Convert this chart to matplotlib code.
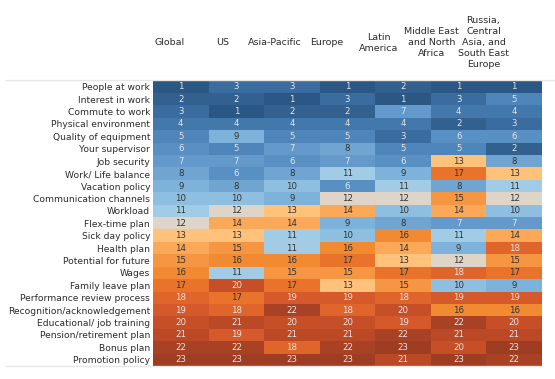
import numpy as np
import matplotlib
matplotlib.use("Agg")
import matplotlib.pyplot as plt
from matplotlib.colors import LinearSegmentedColormap

regions = ["Global", "US", "Asia-Pacific", "Europe", "Latin\nAmerica",
           "Middle East\nand North\nAfrica",
           "Russia,\nCentral\nAsia, and\nSouth East\nEurope"]

factors = ["People at work", "Interest in work", "Commute to work",
           "Physical environment", "Quality of equipment", "Your supervisor",
           "Job security", "Work/ Life balance", "Vacation policy",
           "Communication channels", "Workload", "Flex-time plan",
           "Sick day policy", "Health plan", "Potential for future", "Wages",
           "Family leave plan", "Performance review process",
           "Recognition/acknowledgement", "Educational/ job training",
           "Pension/retirement plan", "Bonus plan", "Promotion policy"]

# rank of each factor per region
ranks = [
    [1, 3, 3, 1, 2, 1, 1],
    [2, 2, 1, 3, 1, 3, 5],
    [3, 1, 2, 2, 7, 4, 4],
    [4, 4, 4, 4, 4, 2, 3],
    [5, 9, 5, 5, 3, 6, 6],
    [6, 5, 7, 8, 5, 5, 2],
    [7, 7, 6, 7, 6, 13, 8],
    [8, 6, 8, 11, 9, 17, 13],
    [9, 8, 10, 6, 11, 8, 11],
    [10, 10, 9, 12, 12, 15, 12],
    [11, 12, 13, 14, 10, 14, 10],
    [12, 14, 14, 9, 8, 7, 7],
    [13, 13, 11, 10, 16, 11, 14],
    [14, 15, 11, 16, 14, 9, 18],
    [15, 16, 16, 17, 13, 12, 15],
    [16, 11, 15, 15, 17, 18, 17],
    [17, 20, 17, 13, 15, 10, 9],
    [18, 17, 19, 19, 18, 19, 19],
    [19, 18, 22, 18, 20, 16, 16],
    [20, 21, 20, 20, 19, 22, 20],
    [21, 19, 21, 21, 22, 21, 21],
    [22, 22, 18, 22, 23, 20, 23],
    [23, 23, 23, 23, 21, 23, 22],
]

# orange-blue diverging, blue = top rank
stops = ["#2a5783", "#3a6c9f", "#4e86bb", "#6399cb", "#7db2da", "#a2cce6",
         "#dcd6cc", "#ffc27a", "#fca95a", "#f79641", "#f18a31", "#e9742a",
         "#e0652a", "#d5592a", "#c84f27", "#bb4926", "#aa4224", "#9e3d22"]
pos = [0, 2, 4, 6, 8, 10, 11, 12, 13, 14, 15, 16, 17, 18, 19, 20, 21, 22]
cmap = LinearSegmentedColormap.from_list("ob", [(p / 22, c) for p, c in zip(pos, stops)])

data = np.array(ranks)
nrow, ncol = data.shape

plt.rcParams['font.family'] = ['DejaVu Sans']
fig = plt.figure(figsize=(5.55, 3.79), dpi=100)
ax = fig.add_axes([0.2757, 0.0343, 0.9766 - 0.2757, 0.7876 - 0.0343])
ax.pcolormesh(data, cmap=cmap, vmin=1, vmax=23)
ax.set_xlim(0, ncol)
ax.set_ylim(nrow, 0)
ax.set_xticks([])
ax.set_yticks(np.arange(nrow) + 0.5)
ax.set_yticklabels(factors, fontsize=6.6, color="#2b2b2b")
ax.tick_params(axis="y", length=0, pad=2)
for s in ax.spines.values():
    s.set_visible(False)

for i in range(nrow):
    for j in range(ncol):
        v = data[i, j]
        light = v <= 7 or v >= 18
        ax.text(j + 0.5, i + 0.5, str(v), ha="center", va="center",
                fontsize=6.2, color="#e4e4e4" if light else "#333333")

for j, r in enumerate(regions):
    ax.text(0.306 + 0.94 * j, -3.05, r, ha="center", va="center",
            fontsize=6.8, color="#2b2b2b", linespacing=1.3, clip_on=False)

fig.add_artist(plt.Line2D([0.01, 1.0], [0.7876, 0.7876], color="#e6e6e6", lw=1))
fig.add_artist(plt.Line2D([0.01, 0.9766], [0.0343, 0.0343], color="#e6e6e6", lw=1))

fig.savefig("out.png", dpi=100)
